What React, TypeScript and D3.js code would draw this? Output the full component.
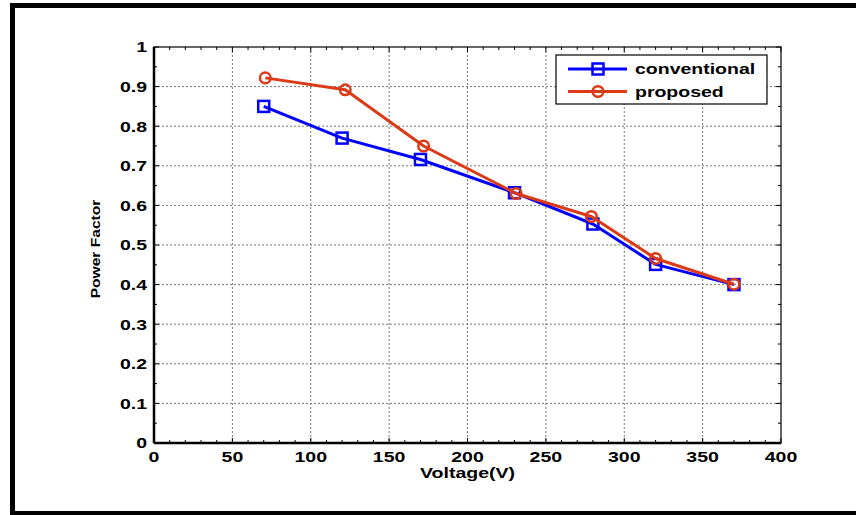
import { useEffect, useRef } from "react";
import * as d3 from "d3";

const VOLTAGE_CONV = [70, 120, 170, 230, 280, 320, 370];
const PF_CONV = [0.85, 0.77, 0.716, 0.632, 0.553, 0.451, 0.4];
const VOLTAGE_PROP = [71, 122, 172, 231, 279, 320, 370];
const PF_PROP = [0.922, 0.892, 0.75, 0.63, 0.572, 0.466, 0.401];
const SERIES_NAMES = ["conventional", "proposed"];
const X_TICKS = [0, 50, 100, 150, 200, 250, 300, 350, 400];
const Y_TICKS = [0, 0.1, 0.2, 0.3, 0.4, 0.5, 0.6, 0.7, 0.8, 0.9, 1];

const WIDTH = 856;
const HEIGHT = 515;
const FONT = "'Liberation Sans', Arial, sans-serif";
const BLUE = "#0000ff";
const RED = "#dc3a16";
const STRETCH = 1.3; // the original text is drawn wide
const PLOT = { left: 154, right: 781, top: 47, bottom: 443 };

type Sel = d3.Selection<SVGSVGElement, unknown, null, undefined>;

export default function App() {
  const svgRef = useRef<SVGSVGElement>(null);

  useEffect(() => {
    const svg = svgRef.current;
    if (!svg) return;
    const root = d3.select(svg);
    root.selectAll("*").remove();

    const x = d3.scaleLinear().domain([0, 400]).range([PLOT.left, PLOT.right]);
    const y = d3.scaleLinear().domain([0, 1]).range([PLOT.bottom, PLOT.top]);

    function label(tx: number, ty: number, str: string, anchor: string, size = 15, rotate = 0, dy = "0", sx = STRETCH) {
      root.append("text")
        .attr("transform", `translate(${tx},${ty}) rotate(${rotate}) scale(${sx},1)`)
        .attr("dy", dy)
        .attr("text-anchor", anchor)
        .attr("font-family", FONT)
        .attr("font-weight", "bold")
        .attr("font-size", size)
        .text(str);
    }

    root.append("rect").attr("width", WIDTH).attr("height", HEIGHT).attr("fill", "#fff");

    // outer frame
    root
      .append("path")
      .attr("d", `M${WIDTH + 5},5.5 H12.5 V513.5 H${WIDTH + 5}`)
      .attr("fill", "none")
      .attr("stroke", "#000")
      .attr("stroke-width", 5);

    // grid
    for (const t of X_TICKS.slice(1, -1)) {
      root.append("line")
        .attr("x1", x(t)).attr("x2", x(t))
        .attr("y1", PLOT.top).attr("y2", PLOT.bottom)
        .attr("stroke", "#777").attr("stroke-dasharray", "2,2").attr("stroke-width", 1);
    }
    for (const t of Y_TICKS.slice(1, -1)) {
      root.append("line")
        .attr("x1", PLOT.left).attr("x2", PLOT.right)
        .attr("y1", y(t)).attr("y2", y(t))
        .attr("stroke", "#777").attr("stroke-dasharray", "2,2").attr("stroke-width", 1);
    }

    // minor + major ticks, pointing inward on all sides
    for (const t of d3.range(0, 401, 10)) {
      const len = t % 50 === 0 ? 5 : 3;
      root.append("line").attr("x1", x(t)).attr("x2", x(t))
        .attr("y1", PLOT.bottom).attr("y2", PLOT.bottom - len).attr("stroke", "#000");
      root.append("line").attr("x1", x(t)).attr("x2", x(t))
        .attr("y1", PLOT.top).attr("y2", PLOT.top + len).attr("stroke", "#000");
    }
    for (const t of d3.range(0, 1.001, 0.05)) {
      const len = Math.round(t * 100) % 10 === 0 ? 5 : 3;
      root.append("line").attr("y1", y(t)).attr("y2", y(t))
        .attr("x1", PLOT.left).attr("x2", PLOT.left + len).attr("stroke", "#000");
      root.append("line").attr("y1", y(t)).attr("y2", y(t))
        .attr("x1", PLOT.right).attr("x2", PLOT.right - len).attr("stroke", "#000");
    }

    // axes box
    root.append("rect")
      .attr("x", PLOT.left).attr("y", PLOT.top)
      .attr("width", PLOT.right - PLOT.left).attr("height", PLOT.bottom - PLOT.top)
      .attr("fill", "none").attr("stroke", "#000").attr("stroke-width", 1.2);
    root.append("line")
      .attr("x1", PLOT.left).attr("x2", PLOT.right)
      .attr("y1", PLOT.bottom).attr("y2", PLOT.bottom)
      .attr("stroke", "#000").attr("stroke-width", 2.5);
    root.append("line")
      .attr("x1", PLOT.left).attr("x2", PLOT.left)
      .attr("y1", PLOT.top).attr("y2", PLOT.bottom)
      .attr("stroke", "#000").attr("stroke-width", 2.5);

    // tick labels
    for (const t of X_TICKS) label(x(t), PLOT.bottom + 19, String(t), "middle");
    for (const t of Y_TICKS) label(PLOT.left - 7, y(t), d3.format("~g")(t), "end", 15, 0, "0.36em");

    // axis titles
    label((PLOT.left + PLOT.right) / 2, PLOT.bottom + 35, "Voltage(V)", "middle");
    label(100, (PLOT.top + PLOT.bottom) / 2 + 4, "Power Factor", "middle", 13, -90, "0", 1.2);

    // series
    const series = [
      { xs: VOLTAGE_CONV, ys: PF_CONV, color: BLUE, marker: "square" },
      { xs: VOLTAGE_PROP, ys: PF_PROP, color: RED, marker: "circle" },
    ];
    const line = d3.line<[number, number]>().x((d) => x(d[0])).y((d) => y(d[1]));

    function drawMarker(g: Sel, kind: string, cx: number, cy: number, color: string) {
      if (kind === "square") {
        g.append("rect")
          .attr("x", cx - 5.5).attr("y", cy - 5.5).attr("width", 11).attr("height", 11)
          .attr("fill", "none").attr("stroke", color).attr("stroke-width", 2.5);
      } else {
        g.append("circle")
          .attr("cx", cx).attr("cy", cy).attr("r", 5.3)
          .attr("fill", "none").attr("stroke", color).attr("stroke-width", 2.5);
      }
    }

    for (const s of series) {
      const pts = s.xs.map((v, i) => [v, s.ys[i]] as [number, number]);
      root.append("path")
        .datum(pts)
        .attr("d", line)
        .attr("fill", "none")
        .attr("stroke", s.color)
        .attr("stroke-width", 3)
        .attr("stroke-linejoin", "round");
      for (const p of pts) drawMarker(root, s.marker, x(p[0]), y(p[1]), s.color);
    }

    // legend
    const lg = { x: 556, y: 55, w: 211, h: 49 };
    root.append("rect")
      .attr("x", lg.x).attr("y", lg.y).attr("width", lg.w).attr("height", lg.h)
      .attr("fill", "#fff").attr("stroke", "#000").attr("stroke-width", 1.2);
    series.forEach((s, i) => {
      const ly = lg.y + 14 + i * 22.5;
      root.append("line")
        .attr("x1", lg.x + 12).attr("x2", lg.x + 71)
        .attr("y1", ly).attr("y2", ly)
        .attr("stroke", s.color).attr("stroke-width", 3);
      drawMarker(root, s.marker, lg.x + 42, ly, s.color);
      label(lg.x + 79, ly, SERIES_NAMES[i], "start", 15, 0, "0.36em");
    });
  }, []);

  return (
    <svg
      ref={svgRef}
      width={WIDTH}
      height={HEIGHT}
      style={{ position: "absolute", left: 0, top: 0 }}
    />
  );
}
